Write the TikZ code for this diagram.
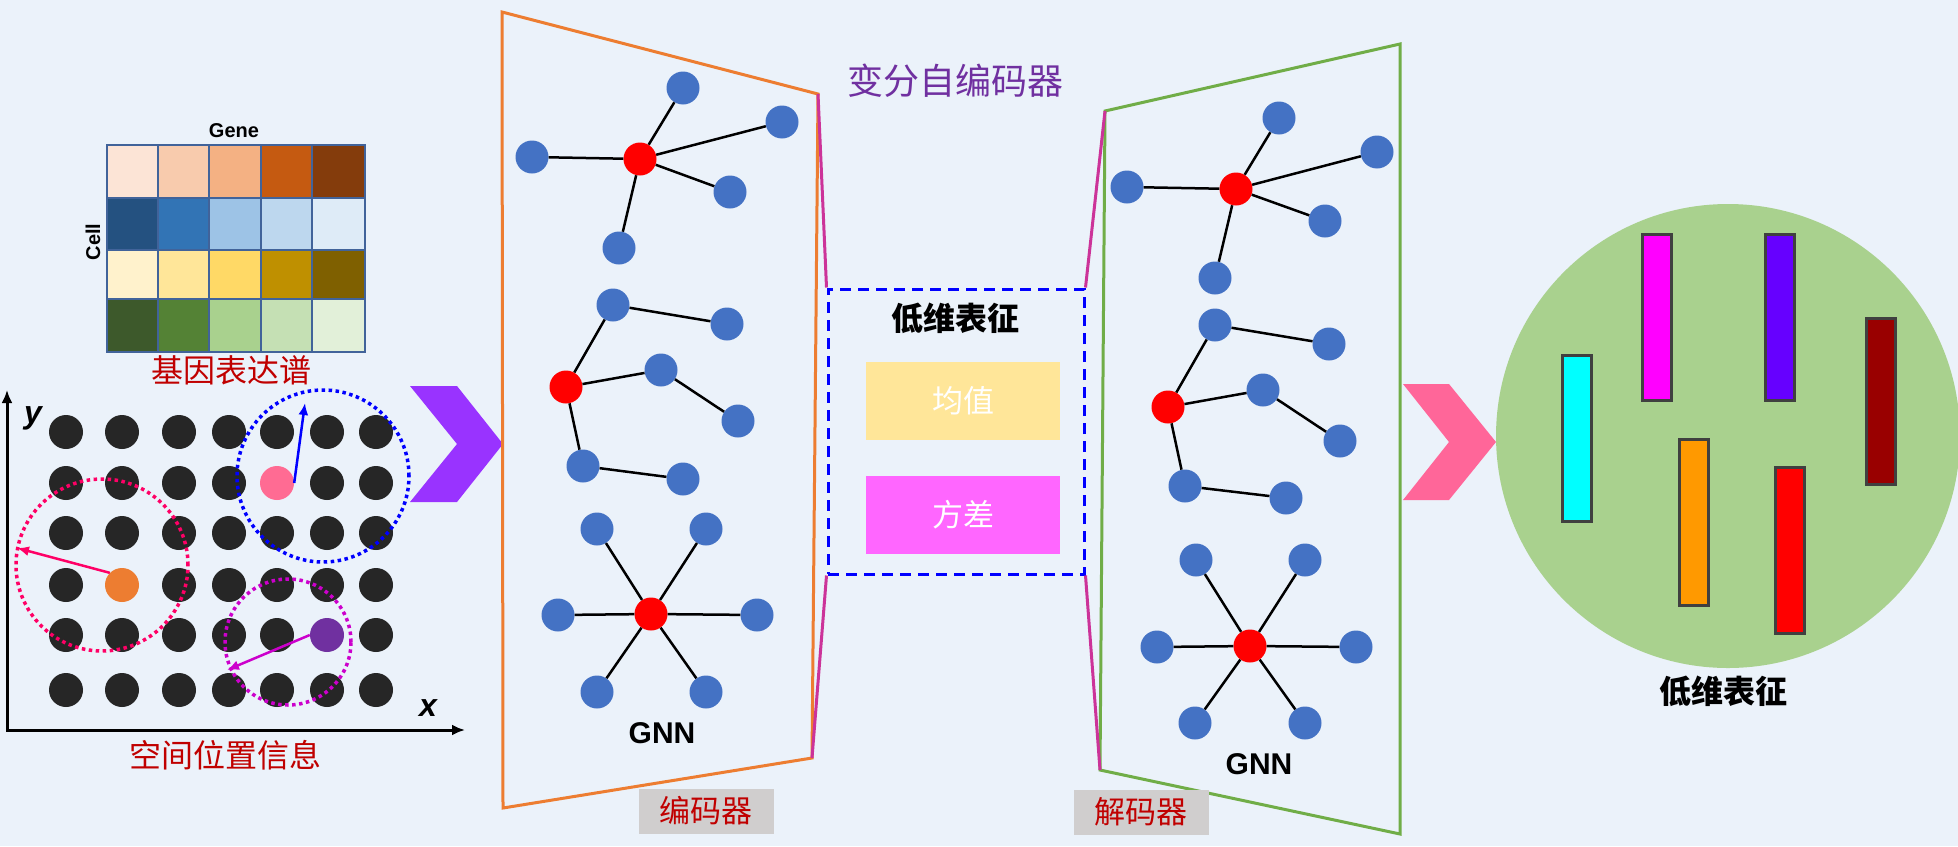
\documentclass[tikz,border=0pt]{standalone}
\usepackage{fontspec}
\setmainfont{Liberation Sans}
\newfontfamily\cjk{Noto Sans CJK SC}
\usetikzlibrary{arrows.meta}
\definecolor{bg}{HTML}{EBF2FA}
\definecolor{gridc}{HTML}{41639A}
\definecolor{h11}{HTML}{FCE4D6}\definecolor{h12}{HTML}{F8CBAD}\definecolor{h13}{HTML}{F4B183}\definecolor{h14}{HTML}{C55A11}\definecolor{h15}{HTML}{843C0C}
\definecolor{h21}{HTML}{245180}\definecolor{h22}{HTML}{3274B5}\definecolor{h23}{HTML}{9DC3E6}\definecolor{h24}{HTML}{BDD7EE}\definecolor{h25}{HTML}{DEEBF7}
\definecolor{h31}{HTML}{FFF2CC}\definecolor{h32}{HTML}{FFE699}\definecolor{h33}{HTML}{FFD966}\definecolor{h34}{HTML}{BF9000}\definecolor{h35}{HTML}{7F6000}
\definecolor{h41}{HTML}{3D592B}\definecolor{h42}{HTML}{548235}\definecolor{h43}{HTML}{A9D18E}\definecolor{h44}{HTML}{C5E0B4}\definecolor{h45}{HTML}{E2F0D9}
\definecolor{dotc}{HTML}{262626}
\definecolor{pinkdot}{HTML}{FF6B93}
\definecolor{orangedot}{HTML}{ED7D31}
\definecolor{purpledot}{HTML}{7030A0}
\definecolor{redring}{HTML}{FF0066}
\definecolor{magring}{HTML}{CC00CC}
\definecolor{labred}{HTML}{C00000}
\definecolor{titlepurple}{HTML}{7030A0}
\definecolor{chevpurple}{HTML}{9933FF}
\definecolor{chevpink}{HTML}{FF6699}
\definecolor{encorange}{HTML}{ED7D31}
\definecolor{decgreen}{HTML}{70AD47}
\definecolor{magline}{HTML}{CC3399}
\definecolor{nblue}{HTML}{4472C4}
\definecolor{meanc}{HTML}{FFE699}
\definecolor{varc}{HTML}{FF66FF}
\definecolor{labgrey}{HTML}{D0CECE}
\definecolor{greenc}{HTML}{A9D18E}
\definecolor{barc}{HTML}{404040}
\definecolor{barcyan}{HTML}{00FFFF}
\definecolor{barmag}{HTML}{FF00FF}
\definecolor{barpurple}{HTML}{6600FF}
\definecolor{bardark}{HTML}{990000}
\definecolor{barorange}{HTML}{FF9900}
\definecolor{barred}{HTML}{FF0000}
\tikzset{
  dot/.style={circle, fill=dotc, minimum size=34, inner sep=0},
  gn/.style={circle, fill=nblue, minimum size=33, inner sep=0},
  gr/.style={circle, fill=barred, minimum size=33, inner sep=0},
  edge/.style={line width=2.5pt, black},
  ring/.style={line width=3.5pt, dash pattern=on 3.5pt off 3.5pt},
  ringarrow/.style={line width=2.5pt, -{Latex[length=12pt,width=10pt]}},
  bar/.style={draw=barc, line width=3pt, minimum width=29, minimum height=166, inner sep=0},
  cjklab/.style={font=\cjk\fontsize{32}{32}\selectfont},
  tag/.style={fill=labgrey, minimum width=135, minimum height=45, inner sep=0, text=labred, font=\cjk\fontsize{31}{31}\selectfont},
  latentbox/.style={minimum width=194, minimum height=78, inner sep=0, text=white, font=\cjk\fontsize{31}{31}\selectfont},
  gnnlab/.style={font=\bfseries\fontsize{30}{30}\selectfont}
}
\begin{document}
\begin{tikzpicture}[x=1pt,y=-1pt]
\useasboundingbox (0,0) rectangle (1958,846);
\fill[bg] (0,0) rectangle (1958,846);

% ---------- heatmap ----------
\foreach \r/\ya/\yb in {1/145/198,2/198/250,3/250/299,4/299/352}{
  \foreach \c/\xa/\xb in {1/107/158,2/158/209,3/209/261,4/261/312,5/312/365}{
    \path[fill=h\r\c, draw=gridc, line width=2.2pt] (\xa,\ya) rectangle (\xb,\yb);
  }
}
\draw[gridc, line width=2.5pt] (107,145) rectangle (365,352);
\node[font=\bfseries\fontsize{20}{20}\selectfont] (gene) at (234,131) {Gene};
\node[font=\bfseries\fontsize{20}{20}\selectfont, rotate=90] (cell) at (93,242) {Cell};
\node[cjklab, text=labred] (expr) at (231,370) {基因表达谱};

% ---------- spatial grid ----------
\foreach \x [count=\i] in {66,122,179,229,277,327,376}{
  \foreach \y [count=\j] in {432,483,533,585,635,690}{
    \pgfmathtruncatemacro\skipdot{((\i==5)&&(\j==2))||((\i==2)&&(\j==4))||((\i==6)&&(\j==5))}
    \ifnum\skipdot=0 \node[dot] (p\i-\j) at (\x,\y) {};\fi
  }
}
\node[dot, fill=pinkdot] (pk) at (277,483) {};
\node[dot, fill=orangedot] (org) at (122,585) {};
\node[dot, fill=purpledot] (pur) at (327,635) {};

\draw[ring, blue] (323,476) circle (86pt);
\draw[ring, redring] (102,565) circle (86pt);
\draw[ring, magring] (288,642) circle (63pt);

\coordinate (pkend) at (305,403);
\coordinate (orgend) at (17,548);
\coordinate (purend) at (227,670);
\draw[ringarrow, blue] (pk.east) -- (pkend);
\draw[ringarrow, redring] (org.north west) -- (orgend);
\draw[ringarrow, magring] (pur.west) -- (purend);

\coordinate (ytip) at (7,390);
\coordinate (orig) at (7,730);
\coordinate (xtip) at (465,730);
\draw[line width=3pt, {Latex[length=13pt,width=11pt]}-{Latex[length=13pt,width=11pt]}] (ytip) -- (orig) -- (xtip);
\node[font=\bfseries\itshape\fontsize{32}{32}\selectfont] (ylab) at (33,418) {y};
\node[font=\bfseries\itshape\fontsize{32}{32}\selectfont] (xlab) at (428,708) {x};
\node[cjklab, text=labred] (spatial) at (225,755) {空间位置信息};

% ---------- chevrons ----------
\fill[chevpurple] (410,386) -- (457,386) -- (503,444) -- (457,502) -- (410,502) -- (457,444) -- cycle;
\fill[chevpink] (1403,384) -- (1449,384) -- (1496,442) -- (1449,500) -- (1403,500) -- (1449,442) -- cycle;

% ---------- encoder / decoder frames ----------
\coordinate (etl) at (502,12);
\coordinate (etr) at (818,94);
\coordinate (ebr) at (812,758);
\coordinate (ebl) at (503,808);
\draw[encorange, line width=3pt] (etl) -- (etr) -- (ebr) -- (ebl) -- cycle;

\coordinate (dtl) at (1105,111);
\coordinate (dtr) at (1400,44);
\coordinate (dbr) at (1400,834);
\coordinate (dbl) at (1100,770);
\draw[decgreen, line width=3pt] (dtl) -- (dtr) -- (dbr) -- (dbl) -- cycle;

\node[draw=blue, line width=3pt, dash pattern=on 11pt off 7pt, minimum width=256, minimum height=285, inner sep=0] (lat) at (956,431.5) {};
\draw[magline, line width=3pt] (etr) -- (lat.north west);
\draw[magline, line width=3pt] (lat.south west) -- (ebr);
\draw[magline, line width=3pt] (lat.north east) -- (dtl);
\draw[magline, line width=3pt] (lat.south east) -- (dbl);

\node[font=\cjk\fontsize{36}{36}\selectfont, text=titlepurple] (vae) at (955,81) {变分自编码器};
\node[font=\cjk\bfseries\fontsize{32}{32}\selectfont] (lattitle) at (955,318) {低维表征};
\node[latentbox, fill=meanc] (mean) at (963,401) {均值};
\node[latentbox, fill=varc] (var) at (963,515) {方差};

\node[tag] (enctag) at (706,811) {编码器};
\node[tag] (dectag) at (1141,812) {解码器};

% ---------- encoder graphs ----------
\node[gr] (e1) at (640,159) {};
\node[gn] (e1a) at (683,88) {};
\node[gn] (e1b) at (782,122) {};
\node[gn] (e1c) at (532,157) {};
\node[gn] (e1d) at (730,192) {};
\node[gn] (e1e) at (619,248) {};
\foreach \s in {a,b,c,d,e} \draw[edge] (e1) -- (e1\s);

\node[gr] (e2) at (566,387) {};
\node[gn] (e2a) at (613,305) {};
\node[gn] (e2b) at (727,324) {};
\node[gn] (e2c) at (661,370) {};
\node[gn] (e2d) at (738,421) {};
\node[gn] (e2e) at (583,466) {};
\node[gn] (e2f) at (683,479) {};
\draw[edge] (e2) -- (e2a) -- (e2b);
\draw[edge] (e2) -- (e2c) -- (e2d);
\draw[edge] (e2) -- (e2e) -- (e2f);

\node[gr] (e3) at (651,614) {};
\node[gn] (e3a) at (597,529) {};
\node[gn] (e3b) at (706,529) {};
\node[gn] (e3c) at (558,615) {};
\node[gn] (e3d) at (757,615) {};
\node[gn] (e3e) at (597,692) {};
\node[gn] (e3f) at (706,692) {};
\foreach \s in {a,b,c,d,e,f} \draw[edge] (e3) -- (e3\s);
\node[gnnlab] (gnn1) at (662,733) {GNN};

% ---------- decoder graphs ----------
\node[gr] (g1) at (1236,189) {};
\node[gn] (g1a) at (1279,118) {};
\node[gn] (g1b) at (1377,152) {};
\node[gn] (g1c) at (1127,187) {};
\node[gn] (g1d) at (1325,221) {};
\node[gn] (g1e) at (1215,278) {};
\foreach \s in {a,b,c,d,e} \draw[edge] (g1) -- (g1\s);

\node[gr] (g2) at (1168,407) {};
\node[gn] (g2a) at (1215,325) {};
\node[gn] (g2b) at (1329,344) {};
\node[gn] (g2c) at (1263,390) {};
\node[gn] (g2d) at (1340,441) {};
\node[gn] (g2e) at (1185,486) {};
\node[gn] (g2f) at (1286,498) {};
\draw[edge] (g2) -- (g2a) -- (g2b);
\draw[edge] (g2) -- (g2c) -- (g2d);
\draw[edge] (g2) -- (g2e) -- (g2f);

\node[gr] (g3) at (1250,646) {};
\node[gn] (g3a) at (1196,560) {};
\node[gn] (g3b) at (1305,560) {};
\node[gn] (g3c) at (1157,647) {};
\node[gn] (g3d) at (1356,647) {};
\node[gn] (g3e) at (1195,723) {};
\node[gn] (g3f) at (1305,723) {};
\foreach \s in {a,b,c,d,e,f} \draw[edge] (g3) -- (g3\s);
\node[gnnlab] (gnn2) at (1259,764) {GNN};

% ---------- latent space ----------
\fill[greenc] (1728,436) circle (232pt);
\node[bar, fill=barcyan] (bcyan) at (1577,438) {};
\node[bar, fill=barmag] (bmag) at (1657,317) {};
\node[bar, fill=barpurple] (bpur) at (1780,317) {};
\node[bar, fill=bardark] (bdark) at (1881,401) {};
\node[bar, fill=barorange] (bora) at (1694,522) {};
\node[bar, fill=barred] (bred) at (1790,550) {};
\node[font=\cjk\bfseries\fontsize{32}{32}\selectfont] (lowdim) at (1723,691) {低维表征};
\end{tikzpicture}
\end{document}
